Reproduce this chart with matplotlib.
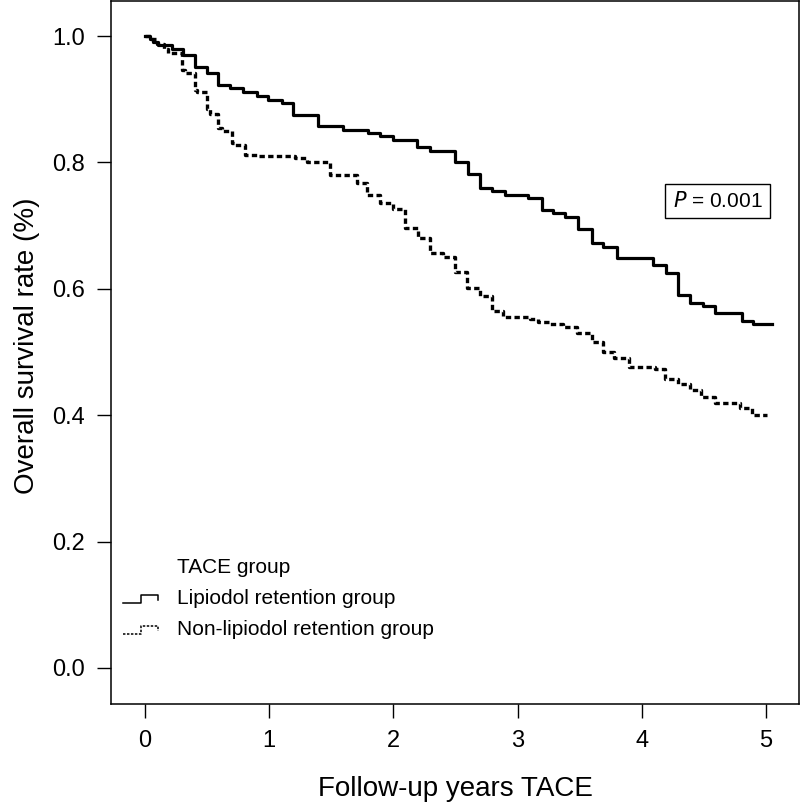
import numpy as np
import matplotlib
matplotlib.use("Agg")
import matplotlib.pyplot as plt

plt.rcParams['font.family'] = ['Liberation Sans', 'DejaVu Sans']

# Kaplan-Meier step values (years, survival)
lip_t = [0.0, 0.04, 0.067, 0.107, 0.215, 0.303, 0.403, 0.497, 0.590, 0.684,
         0.792, 0.899, 0.993, 1.100, 1.194, 1.395, 1.597, 1.798, 1.892, 1.994,
         2.188, 2.295, 2.496, 2.603, 2.697, 2.791, 2.899, 3.086, 3.194, 3.288,
         3.382, 3.489, 3.596, 3.690, 3.798, 4.093, 4.195, 4.294, 4.388, 4.495,
         4.589, 4.804, 4.898, 5.046]
lip_s = [1.000, 0.996, 0.990, 0.986, 0.979, 0.970, 0.951, 0.941, 0.922, 0.917,
         0.912, 0.905, 0.899, 0.894, 0.875, 0.858, 0.852, 0.847, 0.841, 0.835,
         0.824, 0.818, 0.800, 0.782, 0.759, 0.754, 0.748, 0.743, 0.725, 0.720,
         0.714, 0.694, 0.672, 0.666, 0.648, 0.638, 0.625, 0.590, 0.577, 0.573,
         0.561, 0.549, 0.544, 0.544]

non_t = [0.0, 0.05, 0.10, 0.15, 0.188, 0.295, 0.32, 0.403, 0.42, 0.497,
         0.52, 0.590, 0.62, 0.698, 0.72, 0.805, 0.90, 1.208, 1.302, 1.490,
         1.704, 1.785, 1.892, 2.000, 2.093, 2.201, 2.295, 2.402, 2.496, 2.590,
         2.697, 2.791, 2.885, 3.100, 3.167, 3.261, 3.369, 3.476, 3.596, 3.69,
         3.78, 3.90, 4.106, 4.187, 4.294, 4.388, 4.48, 4.589, 4.79, 4.89, 5.01]
non_s = [1.000, 0.995, 0.988, 0.980, 0.973, 0.946, 0.941, 0.915, 0.912, 0.884,
         0.877, 0.854, 0.849, 0.830, 0.827, 0.812, 0.810, 0.807, 0.800, 0.780,
         0.767, 0.748, 0.735, 0.726, 0.696, 0.680, 0.657, 0.650, 0.626, 0.601,
         0.588, 0.565, 0.556, 0.552, 0.548, 0.545, 0.539, 0.530, 0.516, 0.500,
         0.490, 0.477, 0.473, 0.458, 0.450, 0.440, 0.429, 0.420, 0.411, 0.400, 0.400]

x_ticks = [0, 1, 2, 3, 4, 5]
y_ticks = [0.0, 0.2, 0.4, 0.6, 0.8, 1.0]
labels = ["Lipiodol retention group", "Non-lipiodol retention group"]
p_text = r"$\it{P}$ = 0.001"

dash = (0, (1.6, 1.0))

fig = plt.figure(figsize=(8, 8.07), dpi=100)
ax = fig.add_axes([0.13875, 0.12763, 0.86, 0.87113])

ax.step(lip_t, lip_s, where='post', color='black', lw=2.3)
ax.step(non_t, non_s, where='post', color='black', lw=2.4, linestyle=dash)

ax.set_xlim(-0.274, 5.266)
ax.set_ylim(-0.057, 1.0554)
ax.set_xticks(x_ticks)
ax.set_xticklabels([str(v) for v in x_ticks])
ax.set_yticks(y_ticks)
ax.set_yticklabels(["%.1f" % v for v in y_ticks])
ax.tick_params(direction='out', length=10, width=1.0, labelsize=17, pad=9)
for sp in ax.spines.values():
    sp.set_linewidth(1.1)

ax.set_xlabel("Follow-up years TACE", fontsize=20)
ax.xaxis.set_label_coords(0.5, -0.103)
ax.set_ylabel("Overall survival rate (%)", fontsize=20)
ax.yaxis.set_label_coords(-0.103, 0.51)

# p-value box
ax.text(4.61, 0.739, p_text, fontsize=15, ha='center', va='center',
        bbox=dict(boxstyle='square,pad=0.35', fc='white', ec='black', lw=1.0))

# legend (drawn by hand, like R's step symbols)
tr = ax.transAxes
ax.text(0.0959, 0.1935, "TACE group", transform=tr, fontsize=15, va='center')
sym_x = [0.0174, 0.0436, 0.0436, 0.0683, 0.0683]
for yy, text, ls in [(0.1494, labels[0], '-'), (0.1053, labels[1], dash)]:
    sym_y = [yy - 0.006, yy - 0.006, yy + 0.006, yy + 0.006, yy - 0.001]
    ax.plot(sym_x, sym_y, transform=tr, color='black', lw=1.1, linestyle=ls)
    ax.text(0.0959, yy, text, transform=tr, fontsize=15, va='center')

fig.savefig("out.png", dpi=100)
